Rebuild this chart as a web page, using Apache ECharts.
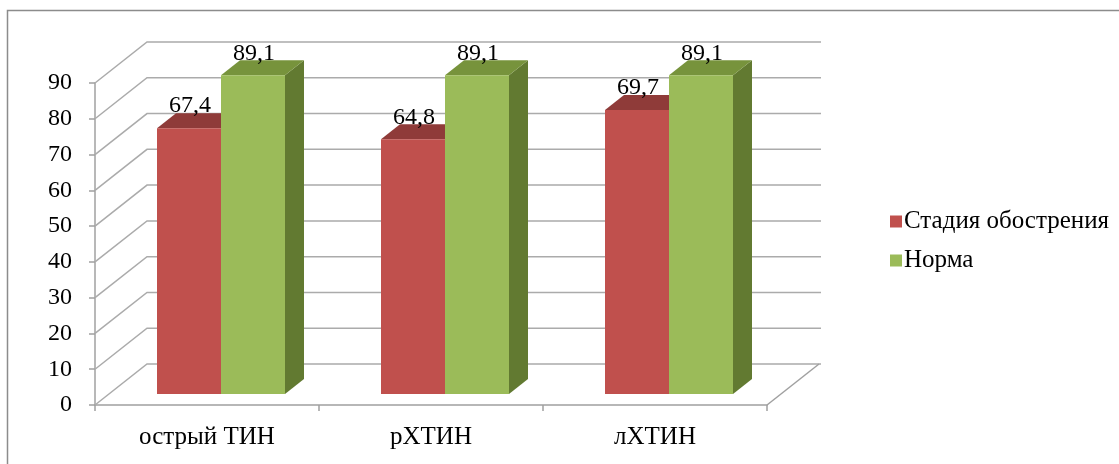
<!DOCTYPE html>
<html>
<head>
<meta charset="utf-8">
<script src="https://cdn.jsdelivr.net/npm/echarts@6/dist/echarts.min.js"></script>
<style>
  html, body { margin: 0; padding: 0; background: #fff; }
  #chart { width: 1119px; height: 464px; }
</style>
</head>
<body>
<div id="chart"></div>
<script>
// data
var categories = ['острый ТИН', 'рХТИН', 'лХТИН']
var stageBars = [74.3, 71.2, 79.4]      // red bar heights as drawn
var stageLabels = ['67,4', '64,8', '69,7']
var normBars = [89.1, 89.1, 89.1]
var normLabels = ['89,1', '89,1', '89,1']
var yTicks = [0, 10, 20, 30, 40, 50, 60, 70, 80, 90]
var seriesNames = ['Стадия обострения', 'Норма']

// fake 3d: offsets of the back wall and of the bar faces
var WALL = [52, -41]
var FRONT = [14, -11]
var DEPTH = [19, -15]
var FONT = "'Liberation Serif', 'Times New Roman', serif"
var FS = 24

var red = { front: '#c0504d', top: '#8f3b39', side: '#7d3331' }
var green = { front: '#9bbb59', top: '#77933c', side: '#627a31' }

function barItem (idx, labels, col) {
  return function (params, api) {
    var i = api.value(0)
    var v = api.value(1)
    var catW = api.size([1, 0])[0]
    var w = catW / 3.5
    var top = api.coord([i, v])
    var base = api.coord([i, 0])
    var cx = top[0] + (idx === 0 ? -w / 2 : w / 2) + FRONT[0]
    var x0 = cx - w / 2
    var x1 = cx + w / 2
    var yt = top[1] + FRONT[1]
    var yb = base[1] + FRONT[1]
    var dx = DEPTH[0]
    var dy = DEPTH[1]
    return {
      type: 'group',
      children: [
        { type: 'polygon', shape: { points: [[x1, yt], [x1 + dx, yt + dy], [x1 + dx, yb + dy], [x1, yb]] }, style: { fill: col.side } },
        { type: 'polygon', shape: { points: [[x0, yt], [x0 + dx, yt + dy], [x1 + dx, yt + dy], [x1, yt]] }, style: { fill: col.top } },
        { type: 'rect', shape: { x: x0, y: yt, width: w, height: yb - yt }, style: { fill: col.front } },
        {
          type: 'text',
          x: cx + 1,
          y: yt + dy + 5,
          style: {
            text: labels[params.dataIndex],
            align: 'center',
            verticalAlign: 'bottom',
            fill: '#000',
            fontSize: FS,
            fontFamily: FONT
          }
        }
      ]
    }
  }
}

function wallItem (params, api) {
  var y = api.coord([0, api.value(1)])[1]
  var cs = params.coordSys
  var x0 = cs.x
  var x1 = cs.x + cs.width
  var pts = [[x0, y], [x0 + WALL[0], y + WALL[1]], [x1 + WALL[0] + 2, y + WALL[1]]]
  var children = [{ type: 'polyline', shape: { points: pts }, style: { stroke: '#ababab', lineWidth: 1.5, fill: null } }]
  if (api.value(1) === 0) {
    children.push({ type: 'line', shape: { x1: x1, y1: y, x2: x1 + WALL[0], y2: y + WALL[1] }, style: { stroke: '#a0a0a0', lineWidth: 1.5 } })
  }
  return { type: 'group', children: children }
}

var chart = echarts.init(document.getElementById('chart'))
var option = {
  animation: false,
  backgroundColor: '#fff',
  graphic: [{
    type: 'rect',
    shape: { x: 7.5, y: 10.5, width: 1130, height: 470 },
    style: { fill: null, stroke: '#8c8c8c', lineWidth: 1.5 },
    silent: true
  }],
  legend: {
    orient: 'vertical',
    left: 885,
    top: 204,
    itemWidth: 12,
    itemHeight: 12,
    itemGap: 14,
    icon: 'rect',
    data: seriesNames,
    textStyle: { color: '#000', fontSize: 25, fontFamily: FONT, padding: [0, 0, 0, -3] }
  },
  grid: { left: 95, top: 83, width: 672, height: 322 },
  xAxis: {
    type: 'category',
    data: categories,
    axisLine: { lineStyle: { color: '#a0a0a0', width: 1.5 } },
    axisTick: { show: true, length: 6, lineStyle: { color: '#a0a0a0', width: 1.5 } },
    axisLabel: { color: '#000', fontSize: 25, fontFamily: FONT, margin: 20 }
  },
  yAxis: {
    type: 'value',
    min: 0,
    max: 90,
    interval: 10,
    axisLine: { show: true, lineStyle: { color: '#a0a0a0', width: 1.5 } },
    axisTick: { show: true, length: 6, lineStyle: { color: '#a0a0a0', width: 1.5 } },
    axisLabel: { color: '#000', fontSize: FS, fontFamily: FONT, margin: 23 },
    splitLine: { show: false }
  },
  series: [
    {
      type: 'custom',
      silent: true,
      z: 1,
      renderItem: wallItem,
      data: yTicks.map(function (v) { return [0, v] })
    },
    {
      name: seriesNames[0],
      type: 'custom',
      z: 2,
      itemStyle: { color: red.front },
      renderItem: barItem(0, stageLabels, red),
      data: stageBars.map(function (v, i) { return [i, v] })
    },
    {
      name: seriesNames[1],
      type: 'custom',
      z: 3,
      itemStyle: { color: green.front },
      renderItem: barItem(1, normLabels, green),
      data: normBars.map(function (v, i) { return [i, v] })
    }
  ]
}
chart.setOption(option)
</script>
</body>
</html>
